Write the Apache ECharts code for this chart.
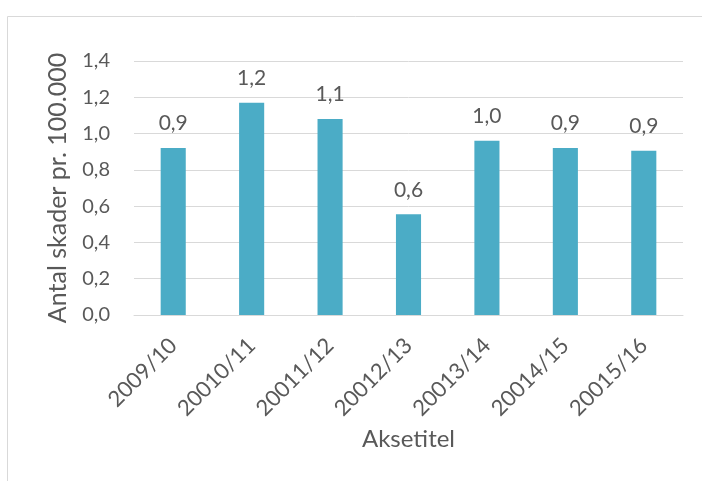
<!DOCTYPE html>
<html lang="da">
<head>
<meta charset="UTF-8">
<title>Antal skader</title>
<script src="https://cdn.jsdelivr.net/npm/echarts@6/dist/echarts.min.js"></script>
<style>
  html, body { margin: 0; padding: 0; background: #fff; }
  #main { width: 702px; height: 481px; }
</style>
</head>
<body>
<div id="main"></div>
<script>
// data
var seasons = ['2009/10', '20010/11', '20011/12', '20012/13', '20013/14', '20014/15', '20015/16'];
var skader = [0.92, 1.17, 1.08, 0.555, 0.96, 0.92, 0.905];
var yTitle = 'Antal skader pr. 100.000';
var xTitle = 'Aksetitel';

var font = 'Lato, "Open Sans", sans-serif';
var grey = '#595959';

function komma(v, d) {
    return v.toFixed(d).replace('.', ',');
}

var chart = echarts.init(document.getElementById('main'), null, { renderer: 'canvas' });
chart.setOption({
    animation: false,
    textStyle: { fontFamily: font },
    graphic: [{
        type: 'rect',
        shape: { x: 7.5, y: 16.5, width: 720, height: 500 },
        style: { fill: 'none', stroke: '#d9d9d9', lineWidth: 1 }
    }],
    grid: { left: 134, right: 19, top: 61, bottom: 166 },
    xAxis: {
        type: 'category',
        data: seasons,
        name: xTitle,
        nameLocation: 'middle',
        nameGap: 112,
        nameTextStyle: { color: grey, fontSize: 24, fontFamily: font },
        axisLine: { lineStyle: { color: '#d9d9d9' } },
        axisTick: { show: false },
        axisLabel: { color: grey, fontSize: 22, rotate: 45, margin: 27, fontFamily: font }
    },
    yAxis: {
        type: 'value',
        min: 0,
        max: 1.4,
        interval: 0.2,
        name: yTitle,
        nameLocation: 'middle',
        nameGap: 64,
        nameTextStyle: { color: grey, fontSize: 25, fontFamily: font },
        axisLine: { show: false },
        axisTick: { show: false },
        splitLine: { lineStyle: { color: '#d9d9d9' } },
        axisLabel: {
            color: grey, fontSize: 20, margin: 24, fontFamily: font,
            formatter: function (v) { return komma(v, 1); }
        }
    },
    series: [{
        type: 'bar',
        data: skader,
        barWidth: '32%',
        itemStyle: { color: '#4bacc6' },
        label: {
            show: true,
            position: 'top',
            distance: 14,
            color: grey,
            fontSize: 21,
            fontFamily: font,
            formatter: function (p) { return komma(p.value, 1); }
        }
    }]
});
</script>
</body>
</html>
